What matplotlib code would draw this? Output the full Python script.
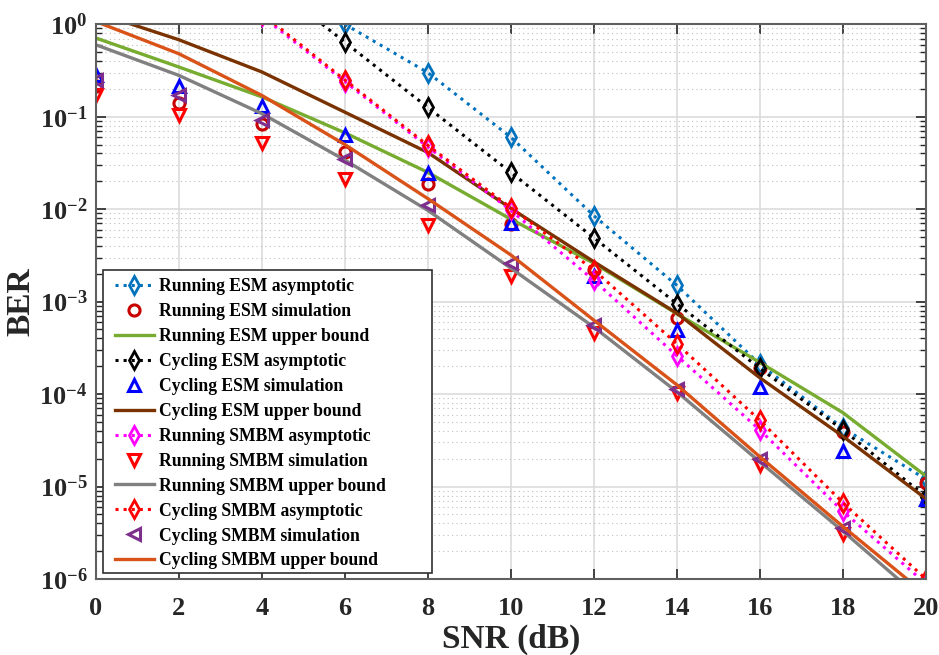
import numpy as np
import matplotlib
matplotlib.use("Agg")
import matplotlib.pyplot as plt
from matplotlib.patches import Rectangle
from matplotlib.ticker import FixedLocator, LogLocator, FuncFormatter, NullFormatter

plt.rcParams['font.family'] = ['Liberation Serif', 'DejaVu Serif']
plt.rcParams['font.weight'] = 'bold'
plt.rcParams['mathtext.fontset'] = 'custom'
plt.rcParams['mathtext.rm'] = 'Liberation Serif:bold'
plt.rcParams['mathtext.bf'] = 'Liberation Serif:bold'

snr = [0, 2, 4, 6, 8, 10, 12, 14, 16, 18, 20]
snr_asym = [4, 6, 8, 10, 12, 14, 16, 18, 20]

# asymptotic curves (values above 1 fall outside the axes)
run_esm_asym = [5.5, 1.0, 0.30, 0.060, 0.0085, 1.5e-3, 2.1e-4, 4.3e-5, 1.2e-5]
cyc_esm_asym = [3.3, 0.64, 0.126, 0.025, 0.0049, 9.5e-4, 1.9e-4, 4.1e-5, 7.8e-6]
run_smbm_asym = [1.23, 0.24, 0.047, 0.0097, 0.0017, 2.6e-4, 4.1e-5, 5.4e-6, 8.9e-7]
cyc_smbm_asym = [1.3, 0.25, 0.049, 0.0104, 0.0022, 3.5e-4, 5.2e-5, 6.7e-6, 1.0e-6]

# simulation points
run_esm_sim = [0.215, 0.142, 0.083, 0.042, 0.0185, 0.0069, 0.0022, 6.6e-4, 1.9e-4, 3.9e-5, 1.1e-5]
cyc_esm_sim = [0.28, 0.215, 0.13, 0.064, 0.0245, 0.0071, 0.0019, 4.9e-4, 1.2e-4, 2.4e-5, 7.4e-6]
run_smbm_sim = [0.17, 0.105, 0.052, 0.021, 0.0068, 0.0019, 4.6e-4, 1.02e-4, 1.7e-5, 3.1e-6, np.nan]
cyc_smbm_sim = [0.25, 0.17, 0.092, 0.035, 0.011, 0.0026, 5.6e-4, 1.13e-4, 2.0e-5, 3.6e-6, np.nan]

# upper bounds
run_esm_ub = [0.71, 0.345, 0.164, 0.067, 0.025, 0.0078, 0.0026, 7.4e-4, 2.2e-4, 6.3e-5, 1.3e-5]
cyc_esm_ub = [1.34, 0.68, 0.305, 0.112, 0.041, 0.0102, 0.0027, 7.5e-4, 1.5e-4, 3.5e-5, 7.4e-6]
run_smbm_ub = [0.60, 0.28, 0.108, 0.034, 0.0097, 0.0023, 5.3e-4, 1.06e-4, 1.85e-5, 3.3e-6, 5.5e-7]
cyc_smbm_ub = [1.07, 0.48, 0.17, 0.050, 0.013, 0.0032, 6.3e-4, 1.26e-4, 2.1e-5, 3.7e-6, 6.8e-7]

fig = plt.figure(figsize=(9.39, 6.55), dpi=100)
ax = fig.add_axes([0.102, 0.116, 0.884, 0.847])

dot = dict(linestyle=':', lw=2.2, marker='d', ms=9, mew=2, mfc='none')
sim = dict(linestyle='none', ms=8, mew=2.2, mfc='none')
ub = dict(linestyle='-', lw=2.4)

ax.plot(snr_asym[1:], run_esm_asym[1:], color='#0072BD', label='Running ESM asymptotic', **dot)
ax.plot(snr, run_esm_sim, marker='o', color='#C80000', label='Running ESM simulation', **sim)
ax.plot(snr, run_esm_ub, color='#77AC30', label='Running ESM upper bound', **ub)
ax.plot(snr_asym, cyc_esm_asym, color='black', label='Cycling ESM asymptotic', **dot)
ax.plot(snr, cyc_esm_sim, marker='^', color='#0000FF', label='Cycling ESM simulation', **sim)
ax.plot(snr, cyc_esm_ub, color='#7A3300', label='Cycling ESM upper bound', **ub)
ax.plot(snr_asym, run_smbm_asym, color='#FF00FF', label='Running SMBM asymptotic', **dot)
ax.plot(snr, run_smbm_sim, marker='v', color='#FF0000', label='Running SMBM simulation', **sim)
ax.plot(snr, run_smbm_ub, color='#808080', label='Running SMBM upper bound', **ub)
ax.plot(snr_asym, cyc_smbm_asym, color='#FF0000', label='Cycling SMBM asymptotic', **dot)
ax.plot(snr, cyc_smbm_sim, marker='<', color='#7E2F8E', label='Cycling SMBM simulation', **sim)
ax.plot(snr, cyc_smbm_ub, color='#D95319', label='Cycling SMBM upper bound', **ub)

ax.set_yscale('log')
ax.set_xlim(0, 20)
ax.set_ylim(1e-6, 1)
ax.xaxis.set_major_locator(FixedLocator(snr))
ax.yaxis.set_major_locator(LogLocator(base=10, numticks=10))
ax.yaxis.set_minor_locator(LogLocator(base=10, subs=np.arange(2, 10), numticks=20))
ax.yaxis.set_minor_formatter(NullFormatter())
ax.yaxis.set_major_formatter(FuncFormatter(lambda v, p: r'$\mathbf{10^{%d}}$' % round(np.log10(v))))

ax.grid(True, which='major', color='#DCDCDC', lw=1.2, ls='-')
ax.grid(True, which='minor', axis='y', color='#BEBEBE', lw=0.8, ls=(0, (1, 3)))
ax.set_axisbelow(True)

ax.tick_params(which='both', direction='in', top=True, right=True, colors='#262626')
ax.tick_params(which='major', length=7, width=1.2, labelsize=19, labelcolor='#262626', pad=6)
ax.tick_params(axis='x', which='major', pad=13)
ax.tick_params(which='minor', length=4, width=1)
for s in ax.spines.values():
    s.set_color('#606060')
    s.set_linewidth(1.5)

ax.set_xlabel('SNR (dB)', fontsize=24, fontweight='bold', color='#262626', labelpad=3)
ax.set_ylabel('BER', fontsize=24, fontweight='bold', color='#262626')
ax.yaxis.set_label_coords(-0.072, 0.5)

# legend box, wider than the legend text like the MATLAB one
box = Rectangle((0.0088, 0.011), 0.396, 0.546, transform=ax.transAxes, facecolor='white',
                edgecolor='#303030', lw=1.2, zorder=4.5)
ax.add_patch(box)
leg = ax.legend(loc='upper left', bbox_to_anchor=(0.0145, 0.555), prop={'weight': 'bold', 'size': 12.7},
                frameon=False, handlelength=2.2, labelspacing=0.45, borderpad=0.4,
                handletextpad=0.3, borderaxespad=0)
leg.set_zorder(5)

fig.savefig('out.png', dpi=100)
